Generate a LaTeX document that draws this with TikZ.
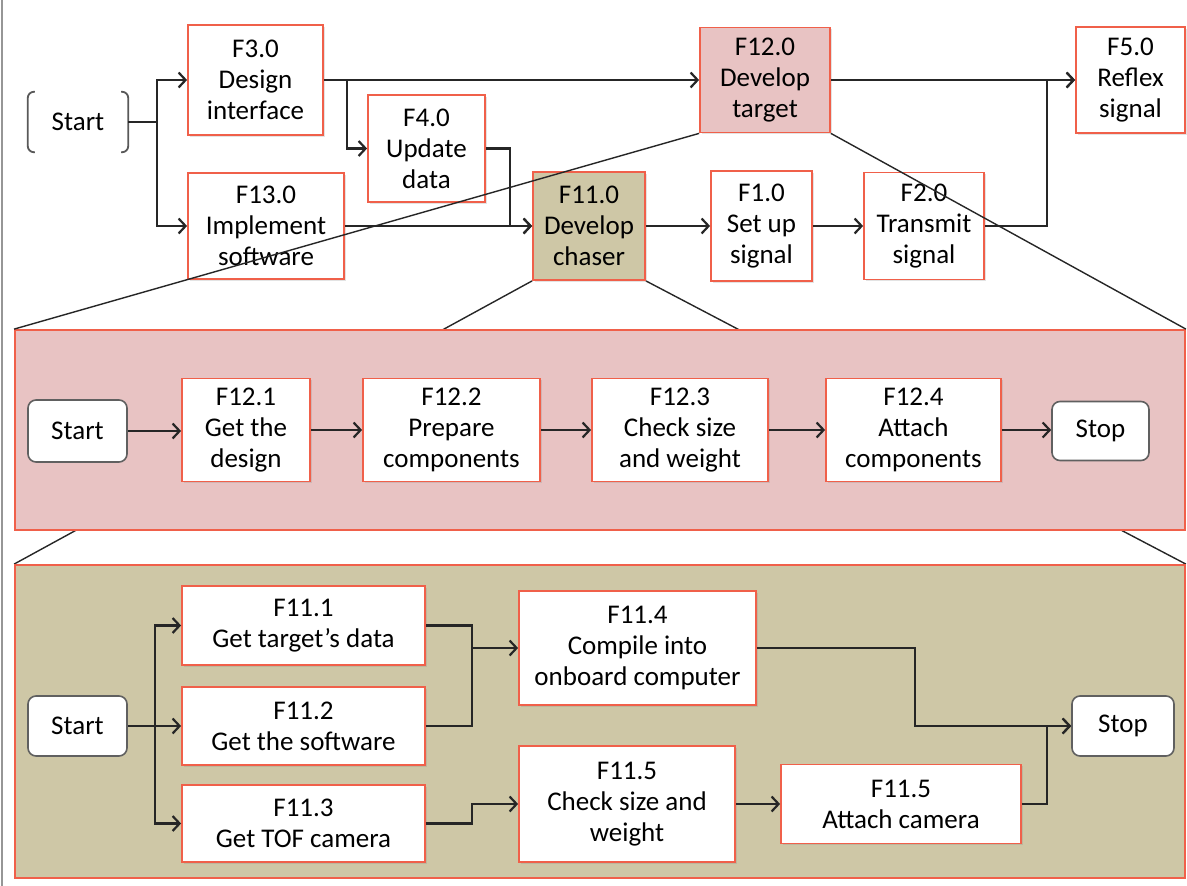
\documentclass[tikz,border=0pt]{standalone}
\usepackage{fontspec}
\setmainfont{Carlito}
\usetikzlibrary{arrows.meta,shadows}
\definecolor{boxred}{RGB}{240,96,74}
\definecolor{pinkfill}{RGB}{232,195,195}
\definecolor{khakifill}{RGB}{206,199,166}
\definecolor{wire}{RGB}{38,38,38}
\definecolor{edgegray}{RGB}{150,150,150}
\pgfdeclarelayer{bg}
\pgfsetlayers{bg,main}

\begin{document}
\begin{tikzpicture}[x=1pt,y=-1pt,
  font=\fontsize{27}{31}\selectfont,
  sz/.style 2 args={minimum width=#1pt, minimum height=#2pt},
  fbox/.style={draw=boxred, line width=1.8pt, fill=white, align=center,
    inner sep=0pt, rectangle,
    drop shadow={shadow xshift=1.5pt, shadow yshift=-1.5pt, opacity=0.22}},
  band/.style={draw=boxred, line width=1.8pt, inner sep=0pt, rectangle},
  term/.style={draw=gray!75!black, line width=1.6pt, fill=white,
    rounded corners=8pt, inner sep=0pt, rectangle},
  bracket/.style={draw=gray!70!black, line width=1.8pt, rounded corners=6pt},
  arr/.style={draw=wire, line width=2.2pt, -{Straight Barb[length=7pt,width=15pt]}},
  wireline/.style={draw=wire, line width=2.2pt},
  zoomline/.style={draw=wire, line width=1.4pt}
]
\useasboundingbox (0,0) rectangle (1187,886);

% page edge rule
\draw[edgegray, line width=2pt] (2,0) -- (2,886);

% ---------- expansion bands ----------
\node[band, fill=pinkfill, sz={1170}{200}] (pinkband) at (600,430) {};
\node[band, fill=khakifill, sz={1170}{313}] (khakiband) at (600,721.5) {};

% ---------- top level ----------
\node[sz={100}{60}, inner sep=0pt] (s0) at (78,122) {Start};
\draw[bracket] ([xshift=7pt]s0.north west) -- (s0.north west) -- (s0.south west) -- ([xshift=7pt]s0.south west);
\draw[bracket] ([xshift=-7pt]s0.north east) -- (s0.north east) -- (s0.south east) -- ([xshift=-7pt]s0.south east);

\node[fbox, sz={135}{110}] (f3) at (255.5,80) {F3.0\\Design\\interface};
\node[fbox, sz={156}{106}] (f13) at (266,226) {F13.0\\Implement\\software};
\node[fbox, sz={117}{107}] (f4) at (426.5,148.5) {F4.0\\Update\\data};
\node[fbox, fill=pinkfill, sz={130}{105}] (f12) at (765,80) {F12.0\\Develop\\target};
\node[fbox, fill=khakifill, sz={112}{108}] (f11) at (589,226) {F11.0\\Develop\\chaser};
\node[fbox, sz={101}{110}] (f1) at (761.5,226) {F1.0\\Set up\\signal};
\node[fbox, sz={120}{107}] (f2) at (924,226) {F2.0\\Transmit\\signal};
\node[fbox, sz={109}{106}] (f5) at (1130.5,80) {F5.0\\Reflex\\signal};

\coordinate (j0) at (157,122);
\coordinate (j1) at (347,80);
\coordinate (j2) at (510,226);
\coordinate (j3) at (1047,80);

\draw[wireline] (s0.east) -- (j0);
\draw[arr] (j0) |- (f3.west);
\draw[arr] (j0) |- (f13.west);
\draw[arr] (f3.east) -- (f12.west);
\draw[arr] (j1) |- (f4.west);
\draw[arr] (f4.east) -| (j2) -- (f11.west);
\draw[arr] (f13.east) -- (f11.west);
\draw[arr] (f11.east) -- (f1.west);
\draw[arr] (f1.east) -- (f2.west);
\draw[arr] (f12.east) -- (f5.west);
\draw[arr] (f2.east) -| (j3) -- (f5.west);

% ---------- F12 breakdown ----------
\node[term, sz={99}{62}] (s1) at (77.5,431) {Start};
\node[fbox, sz={128}{103}] (f121) at (246,430) {F12.1\\Get the\\design};
\node[fbox, sz={177}{103}] (f122) at (451.5,430) {F12.2\\Prepare\\components};
\node[fbox, sz={176}{103}] (f123) at (680,430) {F12.3\\Check size\\and weight};
\node[fbox, sz={175}{103}] (f124) at (913.5,430) {F12.4\\Attach\\components};
\node[term, sz={97}{59}] (t1) at (1100.5,431) {Stop};

\draw[arr] (s1.east) -- (f121.west |- s1.east);
\draw[arr] (f121.east) -- (f122.west);
\draw[arr] (f122.east) -- (f123.west);
\draw[arr] (f123.east) -- (f124.west);
\draw[arr] (f124.east) -- (t1.west |- f124.east);

% ---------- F11 breakdown ----------
\node[term, sz={99}{60}] (s2) at (77.5,726) {Start};
\node[fbox, sz={243}{79}] (f111) at (303.5,625.5) {F11.1\\Get target’s data};
\node[fbox, sz={243}{78}] (f112) at (303.5,726) {F11.2\\Get the software};
\node[fbox, sz={243}{77}] (f113) at (303.5,823.5) {F11.3\\Get TOF camera};
\node[fbox, sz={237}{114}] (f114) at (637.5,648) {F11.4\\Compile into\\onboard computer};
\node[fbox, sz={216}{116}] (f115) at (627,804) {F11.5\\Check size and\\weight};
\node[fbox, sz={240}{79}] (f116) at (901,804) {F11.5\\Attach camera};
\node[term, sz={102}{60}] (t2) at (1123,726) {Stop};

\coordinate (j4) at (155,726);
\coordinate (j5) at (472,648);
\coordinate (j6) at (472,804);
\coordinate (j7) at (915,726);
\coordinate (j8) at (1047,726);

\draw[arr] (s2.east) -- (f112.west);
\draw[arr] (j4) |- (f111.west);
\draw[arr] (j4) |- (f113.west);
\draw[wireline] (f111.east) -| (j5);
\draw[wireline] (f112.east) -| (j5);
\draw[arr] (j5) -- (f114.west);
\draw[arr] (f113.east) -| (j6) -- (f115.west);
\draw[arr] (f115.east) -- (f116.west);
\draw[arr] (f114.east) -| (j7) -- (t2.west);
\draw[arr] (f116.east) -| (j8) -- (t2.west);

% ---------- zoom lines ----------
\begin{pgfonlayer}{bg}
  \draw[zoomline] (f11.south west) -- (khakiband.north west);
  \draw[zoomline] (f11.south east) -- (khakiband.north east);
\end{pgfonlayer}
\draw[zoomline] (f12.south west) -- (pinkband.north west);
\draw[zoomline] (f12.south east) -- (pinkband.north east);

\end{tikzpicture}
\end{document}
